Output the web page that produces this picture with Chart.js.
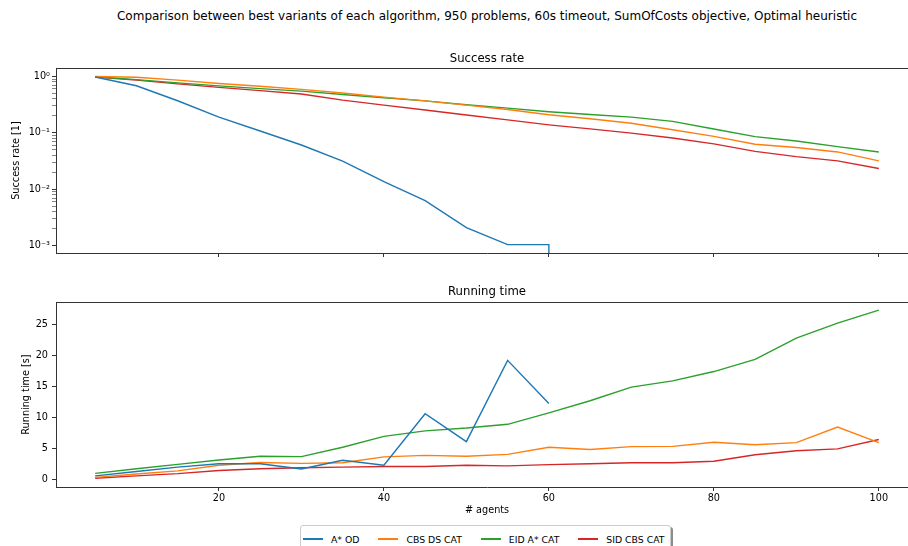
<!DOCTYPE html>
<html>
<head>
<meta charset="utf-8">
<title>Success rate and running time</title>
<script src="https://cdn.jsdelivr.net/npm/chart.js@4.4.0/dist/chart.umd.min.js"></script>
<style>
    html, body { margin: 0; padding: 0; width: 908px; height: 546px; overflow: hidden; background: #fff; }
    body { position: relative; font-family: 'DejaVu Sans', sans-serif; color: #000; }
    #suptitle { position: absolute; left: 0; top: 9px; width: 974px; text-align: center; font-size: 12px; line-height: 15px; white-space: nowrap; }
    #successRate { position: absolute; left: 0; top: 46px; }
    #runningTime { position: absolute; left: 0; top: 280px; }
    #legend { position: absolute; left: 300px; top: 525px; height: 26px; box-sizing: border-box; padding: 2px 3px 0 2px;
              border: 1px solid #ccc; border-radius: 3px; background: #fff; box-shadow: 2px 2px 0 rgba(0,0,0,0.45);
              display: flex; font-size: 9.3px; line-height: 13px; white-space: nowrap; }
    #legend .item { display: inline-flex; align-items: center; margin-right: 19px; }
    #legend .item:last-child { margin-right: 2px; }
    #legend .swatch { display: inline-block; width: 20px; height: 0; border-top: 2px solid; margin-right: 8px; }
</style>
</head>
<body>
<div id="suptitle">Comparison between best variants of each algorithm, 950 problems, 60s timeout, SumOfCosts objective, Optimal heuristic</div>
<canvas id="successRate" width="920" height="219"></canvas>
<canvas id="runningTime" width="920" height="239"></canvas>
<div id="legend"></div>
<script>
// number of agents (x axis)
const agents = [5, 10, 15, 20, 25, 30, 35, 40, 45, 50, 55, 60, 65, 70, 75, 80, 85, 90, 95, 100];

const algorithms = ['A* OD', 'CBS DS CAT', 'EID A* CAT', 'SID CBS CAT'];
const colors = ['#1f77b4', '#ff7f0e', '#2ca02c', '#d62728'];

// success rate [1] (fraction of 950 problems solved)
const successAstarOd     = [0.979, 0.684, 0.371, 0.190, 0.108, 0.061, 0.0316, 0.0137, 0.0063, 0.0021, 0.00105, 0.00105, 0, 0, 0, 0, 0, 0, 0, 0];
const successCbsDsCat    = [1.0, 0.97, 0.86, 0.75, 0.67, 0.59, 0.51, 0.43, 0.37, 0.31, 0.26, 0.21, 0.178, 0.148, 0.114, 0.087, 0.063, 0.055, 0.046, 0.032];
const successEidAstarCat = [0.99, 0.88, 0.77, 0.68, 0.61, 0.55, 0.48, 0.42, 0.37, 0.315, 0.275, 0.237, 0.212, 0.19, 0.16, 0.117, 0.086, 0.072, 0.057, 0.046];
const successSidCbsCat   = [0.98, 0.86, 0.74, 0.64, 0.56, 0.49, 0.38, 0.31, 0.255, 0.207, 0.17, 0.139, 0.118, 0.099, 0.081, 0.064, 0.047, 0.038, 0.032, 0.0234];

// running time [s] (A* OD has no solved instances after 60 agents)
const timeAstarOd     = [0.6, 1.3, 2.0, 2.55, 2.55, 1.7, 3.1, 2.3, 10.6, 6.1, 19.2, 12.25];
const timeCbsDsCat    = [0.35, 0.9, 1.4, 2.3, 2.75, 2.6, 2.7, 3.65, 3.9, 3.75, 4.05, 5.2, 4.85, 5.3, 5.35, 6.0, 5.6, 5.95, 8.45, 5.95];
const timeEidAstarCat = [1.0, 1.75, 2.45, 3.15, 3.75, 3.7, 5.2, 6.95, 7.85, 8.3, 8.9, 10.75, 12.7, 14.9, 15.9, 17.4, 19.35, 22.8, 25.2, 27.3];
const timeSidCbsCat   = [0.2, 0.6, 0.95, 1.45, 1.75, 1.9, 2.0, 2.1, 2.1, 2.3, 2.2, 2.4, 2.55, 2.7, 2.7, 2.95, 4.0, 4.65, 4.95, 6.45];

// ticks
const agentTicks = [20, 40, 60, 80, 100];
const successTicks = [1, 0.1, 0.01, 0.001];
const successTickLabels = ['10\u2070', '10\u207b\u00b9', '10\u207b\u00b2', '10\u207b\u00b3'];
const timeTicks = [0, 5, 10, 15, 20, 25];

document.addEventListener('DOMContentLoaded', function () {
    Chart.defaults.font.family = "'DejaVu Sans', sans-serif";
    Chart.defaults.font.size = 9.7;
    Chart.defaults.color = '#000';

    const spineColor = '#333';

    // zero values on a log axis are clipped to a tiny number, like matplotlib does
    function toPoints(values, logScale) {
        return values.map((v, i) => ({ x: agents[i], y: logScale && v <= 0 ? 1e-300 : v }));
    }

    function makeDatasets(series, logScale) {
        return series.map((values, i) => ({
            label: algorithms[i],
            data: toPoints(values, logScale),
            borderColor: colors[i],
            backgroundColor: colors[i],
            borderWidth: 1.4,
            pointRadius: 0,
            tension: 0,
            fill: false
        }));
    }

    // top and right spines
    const frame = {
        id: 'frame',
        afterDraw(chart) {
            const { ctx, chartArea } = chart;
            ctx.save();
            ctx.strokeStyle = spineColor;
            ctx.lineWidth = 1;
            ctx.beginPath();
            ctx.moveTo(chartArea.left, Math.round(chartArea.top) + 0.5);
            ctx.lineTo(chartArea.right, Math.round(chartArea.top) + 0.5);
            ctx.moveTo(Math.round(chartArea.right) - 0.5, chartArea.top);
            ctx.lineTo(Math.round(chartArea.right) - 0.5, chartArea.bottom);
            ctx.stroke();
            ctx.restore();
        }
    };

    function xAxis(showLabels, height) {
        return {
            type: 'linear',
            min: 0.25,
            max: 104.75,
            afterBuildTicks: (scale) => { scale.ticks = agentTicks.map(v => ({ value: v })); },
            afterFit: (scale) => { scale.height = height; },
            grid: { display: true, drawOnChartArea: false, drawTicks: true, tickLength: 4, color: spineColor, lineWidth: 1 },
            border: { display: true, color: spineColor, width: 1 },
            ticks: { display: showLabels, padding: 2, maxRotation: 0, autoSkip: false, color: '#000' },
            title: { display: showLabels, text: '# agents', padding: { top: 0, bottom: 0 }, color: '#000' }
        };
    }

    // --- Success rate ---
    const successConfig = {
        type: 'line',
        data: {
            datasets: makeDatasets([successAstarOd, successCbsDsCat, successEidAstarCat, successSidCbsCat], true)
        },
        options: {
            responsive: false,
            animation: false,
            layout: { padding: { left: 0, right: 2, top: 0, bottom: 2 } },
            scales: {
                x: xAxis(false, 10),
                y: {
                    type: 'logarithmic',
                    min: 7.45e-4,
                    max: 1.41,
                    afterBuildTicks: (scale) => {
                        const ticks = [];
                        successTicks.forEach(major => {
                            for (let m = 1; m <= 9; m++) {
                                const v = major * m;
                                if (v >= scale.min && v <= scale.max) ticks.push({ value: v, major: m === 1 });
                            }
                        });
                        scale.ticks = ticks.sort((a, b) => a.value - b.value);
                    },
                    afterFit: (scale) => { scale.width = 56; },
                    grid: {
                        display: true, drawOnChartArea: false, drawTicks: true, tickLength: 4, color: spineColor,
                        lineWidth: (ctx) => (ctx.tick && ctx.tick.major ? 1 : 0.6)
                    },
                    border: { display: true, color: spineColor, width: 1 },
                    ticks: {
                        autoSkip: false,
                        padding: 2,
                        color: '#000',
                        callback: function (value) {
                            const i = successTicks.findIndex(t => Math.abs(t - value) < t * 1e-6);
                            return i >= 0 ? successTickLabels[i] : '';
                        }
                    },
                    title: { display: true, text: 'Success rate [1]', padding: { top: 11, bottom: 0 }, color: '#000' }
                }
            },
            plugins: {
                legend: { display: false },
                tooltip: { enabled: false },
                title: {
                    display: true,
                    text: 'Success rate',
                    fullSize: false,
                    color: '#000',
                    font: { size: 11.7, weight: 'normal' },
                    padding: { top: 5.8, bottom: 2.2 }
                }
            }
        },
        plugins: [frame]
    };

    // --- Running time ---
    const timeConfig = {
        type: 'line',
        data: {
            datasets: makeDatasets([timeAstarOd, timeCbsDsCat, timeEidAstarCat, timeSidCbsCat], false)
        },
        options: {
            responsive: false,
            animation: false,
            layout: { padding: { left: 0, right: 2, top: 0, bottom: 3 } },
            scales: {
                x: xAxis(true, 29),
                y: {
                    type: 'linear',
                    min: -1.2,
                    max: 28.6,
                    afterBuildTicks: (scale) => { scale.ticks = timeTicks.map(v => ({ value: v })); },
                    afterFit: (scale) => { scale.width = 56; },
                    grid: { display: true, drawOnChartArea: false, drawTicks: true, tickLength: 4, color: spineColor, lineWidth: 1 },
                    border: { display: true, color: spineColor, width: 1 },
                    ticks: { autoSkip: false, padding: 4, color: '#000' },
                    title: { display: true, text: 'Running time [s]', padding: { top: 21, bottom: 0 }, color: '#000' }
                }
            },
            plugins: {
                legend: { display: false },
                tooltip: { enabled: false },
                title: {
                    display: true,
                    text: 'Running time',
                    fullSize: false,
                    color: '#000',
                    font: { size: 11.7, weight: 'normal' },
                    padding: { top: 5, bottom: 3 }
                }
            }
        },
        plugins: [frame]
    };

    new Chart(document.getElementById('successRate').getContext('2d'), successConfig);
    new Chart(document.getElementById('runningTime').getContext('2d'), timeConfig);

    // legend below the plots
    const legend = document.getElementById('legend');
    algorithms.forEach((name, i) => {
        const item = document.createElement('span');
        item.className = 'item';
        const swatch = document.createElement('span');
        swatch.className = 'swatch';
        swatch.style.borderTopColor = colors[i];
        item.appendChild(swatch);
        item.appendChild(document.createTextNode(name));
        legend.appendChild(item);
    });
});
</script>
</body>
</html>
